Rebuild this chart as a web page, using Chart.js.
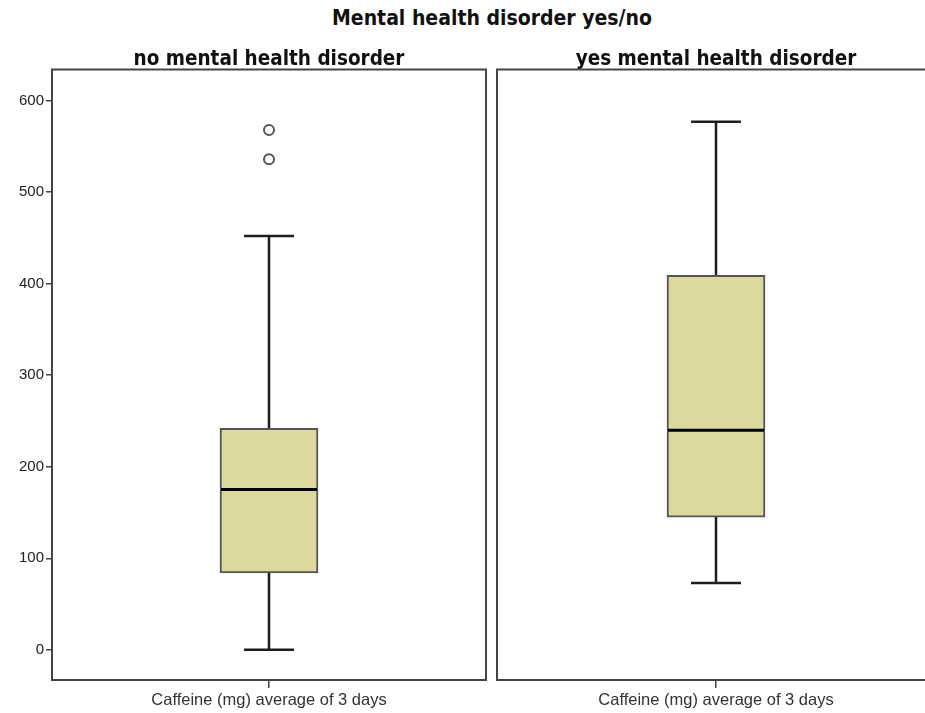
<!DOCTYPE html>
<html>
<head>
<meta charset="utf-8">
<script src="https://cdn.jsdelivr.net/npm/chart.js@4.4.0/dist/chart.umd.min.js"></script>
<style>
  html, body { margin: 0; padding: 0; background: #fff; overflow: hidden; }
  #wrap { position: relative; width: 925px; height: 713px; overflow: hidden; }
  #mainTitle {
    position: absolute; left: 0; width: 984px; top: 6px; text-align: center;
    font: bold 21px "DejaVu Sans Condensed", "DejaVu Sans", sans-serif; color: #111;
  }
  .panel { position: absolute; top: 0; height: 713px; }
</style>
</head>
<body>
<div id="wrap">
  <div id="mainTitle">Mental health disorder yes/no</div>
  <div class="panel" style="left:0;width:493px"><canvas id="chartNo"></canvas></div>
  <div class="panel" style="left:490px;width:450px"><canvas id="chartYes"></canvas></div>
</div>
<script>
// panels (groups) and the one variable plotted in each
const groups = ['no mental health disorder', 'yes mental health disorder'];
const variable = 'Caffeine (mg) average of 3 days';

// box plot values per group
const whiskerLow = [0, 73];
const q1 = [84, 145];
const median = [175, 240];
const q3 = [242, 409];
const whiskerHigh = [452, 577];
const outliers = [[568, 536], []];

// y axis
const yTicks = [0, 100, 200, 300, 400, 500, 600];
const yMin = -33;
const yMax = 634;

const frameColor = '#444';
const boxFill = '#DDD89E';

// frame round the plot area
const framePlugin = {
  id: 'frame',
  afterDraw(chart) {
    const { ctx, chartArea: a } = chart;
    ctx.save();
    ctx.strokeStyle = frameColor;
    ctx.lineWidth = 2;
    ctx.strokeRect(a.left, a.top, a.right - a.left, a.bottom - a.top);
    ctx.restore();
  },
};

// whiskers behind the box, median on top of it
const whiskerPlugin = {
  id: 'whiskers',
  beforeDatasetsDraw(chart, args, opts) {
    const i = opts.group;
    const ctx = chart.ctx;
    const x = chart.scales.x.getPixelForValue(0);
    const y = chart.scales.y;
    const half = opts.capWidth / 2;
    ctx.save();
    ctx.strokeStyle = '#1e1e1e';
    ctx.lineWidth = 2.5;
    ctx.beginPath();
    ctx.moveTo(x, y.getPixelForValue(whiskerLow[i]));
    ctx.lineTo(x, y.getPixelForValue(whiskerHigh[i]));
    [whiskerLow[i], whiskerHigh[i]].forEach((v) => {
      const py = y.getPixelForValue(v);
      ctx.moveTo(x - half, py);
      ctx.lineTo(x + half, py);
    });
    ctx.stroke();
    ctx.restore();
  },
  afterDatasetsDraw(chart, args, opts) {
    const i = opts.group;
    const bar = chart.getDatasetMeta(0).data[0];
    const py = chart.scales.y.getPixelForValue(median[i]);
    const ctx = chart.ctx;
    ctx.save();
    ctx.strokeStyle = '#000';
    ctx.lineWidth = 3;
    ctx.beginPath();
    ctx.moveTo(bar.x - bar.width / 2 + 1, py);
    ctx.lineTo(bar.x + bar.width / 2 - 1, py);
    ctx.stroke();
    ctx.restore();
  },
};

function makePanel(canvasId, i, showY, padding) {
  return new Chart(document.getElementById(canvasId), {
    type: 'bar',
    data: {
      labels: [variable],
      datasets: [
        {
          data: [[q1[i], q3[i]]],
          backgroundColor: boxFill,
          borderColor: '#555',
          borderWidth: 2,
          borderSkipped: false,
          barThickness: 98,
        },
        {
          type: 'line',
          showLine: false,
          data: outliers[i].map((v) => ({ x: variable, y: v })),
          pointRadius: 5,
          pointBackgroundColor: '#fff',
          pointBorderColor: '#555',
          pointBorderWidth: 2,
        },
      ],
    },
    options: {
      responsive: true,
      maintainAspectRatio: false,
      animation: false,
      events: [],
      layout: { padding: padding },
      plugins: {
        legend: { display: false },
        tooltip: { enabled: false },
        title: {
          display: true,
          text: groups[i],
          fullSize: false,
          color: '#111',
          font: { family: '"DejaVu Sans Condensed", "DejaVu Sans", sans-serif', size: 20.5, weight: 'bold', lineHeight: 1.0 },
          padding: { top: 49, bottom: 0 },
        },
        whiskers: { group: i, capWidth: 50 },
      },
      scales: {
        x: {
          offset: true,
          grid: { offset: false, drawOnChartArea: false, tickLength: 8, color: frameColor, lineWidth: 1.5 },
          border: { display: false },
          ticks: { color: '#333', padding: 3, font: { family: '"Liberation Sans", Arial, sans-serif', size: 16.5 } },
          afterFit: (s) => { s.height = 33; },
        },
        y: {
          display: showY,
          min: yMin,
          max: yMax,
          afterBuildTicks: (s) => { s.ticks = yTicks.map((v) => ({ value: v })); },
          afterFit: (s) => { s.width = showY ? 52 : 0; },
          grid: { drawOnChartArea: false, tickLength: 6, color: frameColor, lineWidth: 1.5 },
          border: { display: false },
          ticks: { color: '#222', padding: 2, font: { family: '"Liberation Sans", Arial, sans-serif', size: 15 } },
        },
      },
    },
    plugins: [framePlugin, whiskerPlugin],
  });
}

makePanel('chartNo', 0, true, { left: 0, right: 1 });
makePanel('chartYes', 1, false, { left: 7, right: 5 });
</script>
</body>
</html>
